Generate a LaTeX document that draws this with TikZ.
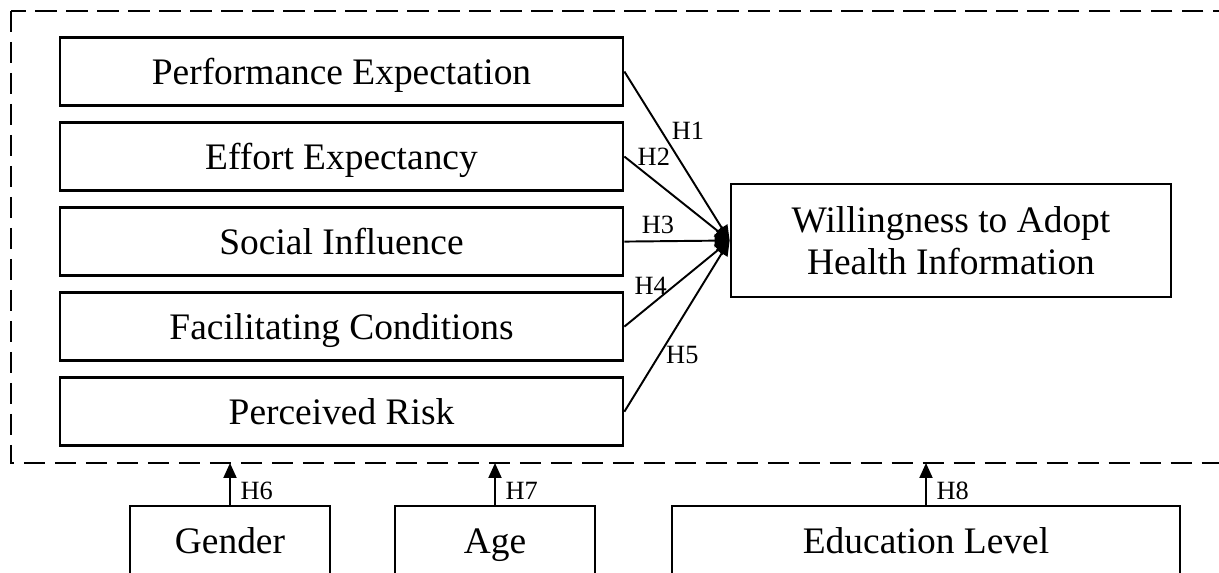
\documentclass[tikz,border=0pt]{standalone}
\usepackage{fontspec}
\setmainfont{Liberation Serif}
\usetikzlibrary{positioning,arrows.meta,calc}
\tikzset{
  box/.style={draw, line width=1.6pt, align=center, minimum height=1.36cm, font=\fontsize{21.3}{24}\selectfont},
  oneline/.style={text height=16pt, text depth=1.2pt},
  factor/.style={box, oneline, minimum width=11.26cm},
  modbox/.style={box, oneline, minimum width=4cm},
  arrow/.style={-{Triangle[length=0.3cm, width=0.26cm]}, line width=1.1pt},
  hyp/.style={font=\fontsize{15}{17}\selectfont, inner sep=1.5pt},
  frame/.style={line width=1.6pt, dash pattern=on 0.43cm off 0.19cm}
}

\begin{document}
\begin{tikzpicture}[x=0.02cm, y=-0.02cm, node distance=0.285cm]
    \useasboundingbox (0,0) rectangle (1219,573);
    % dashed frame round the five factors
    \coordinate (fnw) at (11,11);
    \coordinate (fse) at (1240,463);
    \draw[frame] (fnw) rectangle (fse);
    % factors
    \node[factor] (perf) at (341.5,71.5) {Performance Expectation};
    \node[factor, below=of perf] (effort) {Effort Expectancy};
    \node[factor, below=of effort] (social) {Social Influence};
    \node[factor, below=of social] (facil) {Facilitating Conditions};
    \node[factor, below=of facil] (risk) {Perceived Risk};
    \node[box, minimum width=8.8cm, minimum height=2.26cm] (adopt) at (951,240.5) {Willingness to Adopt\\Health Information};
    \draw[arrow] (perf.east) -- (adopt.west) node[hyp, pos=0.35, right, xshift=4pt] {H1};
    \draw[arrow] (effort.east) -- (adopt.west) node[hyp, pos=0.28, above, yshift=6pt] {H2};
    \draw[arrow] (social.east) -- (adopt.west) node[hyp, pos=0.32, above, yshift=2pt] {H3};
    \draw[arrow] (facil.east) -- (adopt.west) node[hyp, pos=0.25, above, yshift=4pt] {H4};
    \draw[arrow] (risk.east) -- (adopt.west) node[hyp, pos=0.33, right, xshift=2pt] {H5};
    % moderators
    \node[modbox] (gender) at (230,540) {Gender};
    \node[modbox] (age) at (495,540) {Age};
    \node[modbox, minimum width=10.16cm] (edu) at (926,540) {Education Level};
    \draw[arrow] (gender) -- (gender |- fse) node[hyp, pos=0.33, right, xshift=4pt] {H6};
    \draw[arrow] (age) -- (age |- fse) node[hyp, pos=0.33, right, xshift=4pt] {H7};
    \draw[arrow] (edu) -- (edu |- fse) node[hyp, pos=0.33, right, xshift=4pt] {H8};
  \end{tikzpicture}
\end{document}
